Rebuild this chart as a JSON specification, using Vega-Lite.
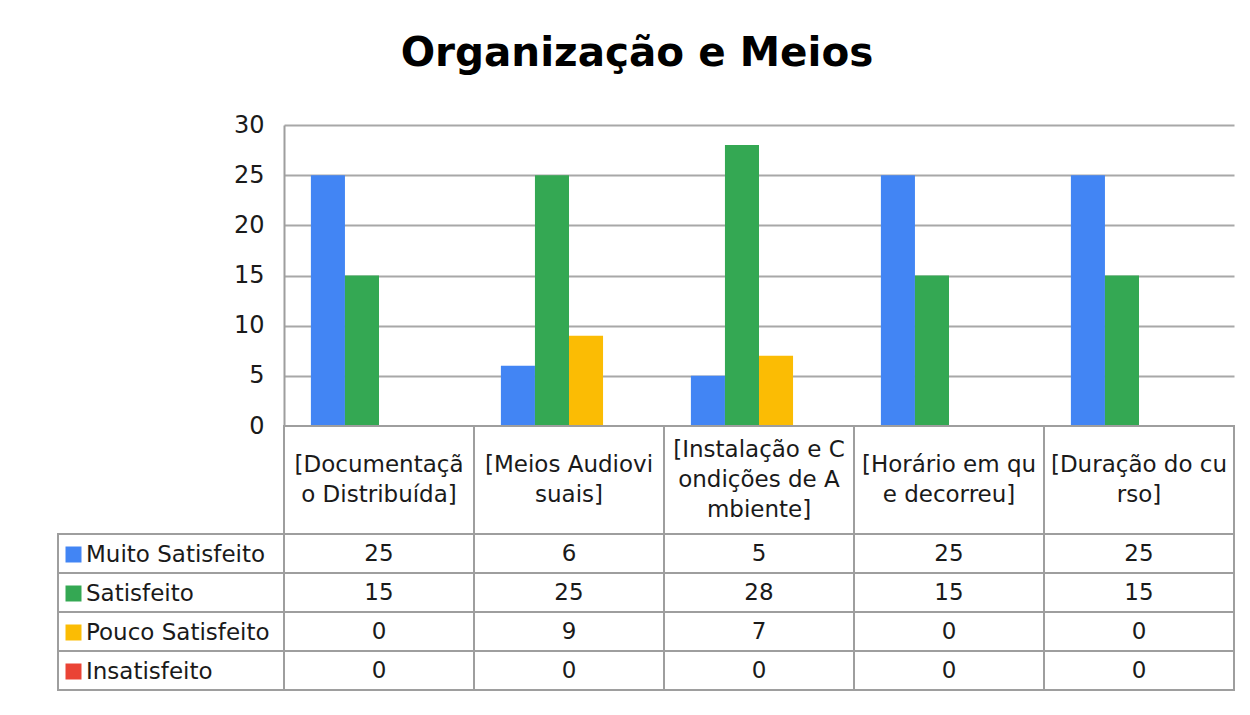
{
  "$schema": "https://vega.github.io/schema/vega-lite/v6.json",
  "padding": {"left": 57, "top": 34, "right": 10, "bottom": 10},
  "config": {"view": {"stroke": null}, "font": "DejaVu Sans"},
  "title": {"text": "Organização e Meios", "fontSize": 40.5, "fontWeight": "bold", "font": "DejaVu Sans", "color": "#000000", "anchor": "middle", "dx": -9, "offset": 38.5},
  "datasets": {
    "d": [
      {"item": "[Documentaçã\no Distribuída]", "series": "Muito Satisfeito", "value": 25},
      {"item": "[Documentaçã\no Distribuída]", "series": "Satisfeito", "value": 15},
      {"item": "[Documentaçã\no Distribuída]", "series": "Pouco Satisfeito", "value": 0},
      {"item": "[Documentaçã\no Distribuída]", "series": "Insatisfeito", "value": 0},
      {"item": "[Meios Audiovi\nsuais]", "series": "Muito Satisfeito", "value": 6},
      {"item": "[Meios Audiovi\nsuais]", "series": "Satisfeito", "value": 25},
      {"item": "[Meios Audiovi\nsuais]", "series": "Pouco Satisfeito", "value": 9},
      {"item": "[Meios Audiovi\nsuais]", "series": "Insatisfeito", "value": 0},
      {"item": "[Instalação e C\nondições de A\nmbiente]", "series": "Muito Satisfeito", "value": 5},
      {"item": "[Instalação e C\nondições de A\nmbiente]", "series": "Satisfeito", "value": 28},
      {"item": "[Instalação e C\nondições de A\nmbiente]", "series": "Pouco Satisfeito", "value": 7},
      {"item": "[Instalação e C\nondições de A\nmbiente]", "series": "Insatisfeito", "value": 0},
      {"item": "[Horário em qu\ne decorreu]", "series": "Muito Satisfeito", "value": 25},
      {"item": "[Horário em qu\ne decorreu]", "series": "Satisfeito", "value": 15},
      {"item": "[Horário em qu\ne decorreu]", "series": "Pouco Satisfeito", "value": 0},
      {"item": "[Horário em qu\ne decorreu]", "series": "Insatisfeito", "value": 0},
      {"item": "[Duração do cu\nrso]", "series": "Muito Satisfeito", "value": 25},
      {"item": "[Duração do cu\nrso]", "series": "Satisfeito", "value": 15},
      {"item": "[Duração do cu\nrso]", "series": "Pouco Satisfeito", "value": 0},
      {"item": "[Duração do cu\nrso]", "series": "Insatisfeito", "value": 0}
    ]
  },
  "bounds": "flush",
  "spacing": 0,
  "columns": 2,
  "resolve": {"scale": {"color": "independent", "x": "independent", "y": "independent", "xOffset": "independent"}, "legend": {"color": "independent"}},
  "concat": [
    {
      "width": 226,
      "height": 301,
      "data": {"values": [{}]},
      "mark": {"type": "text"},
      "encoding": {"text": {"value": ""}}
    },
    {
      "width": 950,
      "height": 301,
      "data": {"name": "d"},
      "mark": {"type": "bar"},
      "encoding": {
        "x": {"field": "item", "type": "nominal", "sort": ["[Documentaçã\no Distribuída]", "[Meios Audiovi\nsuais]", "[Instalação e C\nondições de A\nmbiente]", "[Horário em qu\ne decorreu]", "[Duração do cu\nrso]"], "scale": {"paddingInner": 0, "paddingOuter": 0}, "axis": null},
        "xOffset": {"field": "series", "type": "nominal", "sort": ["Muito Satisfeito", "Satisfeito", "Pouco Satisfeito", "Insatisfeito"], "scale": {"paddingInner": 0, "paddingOuter": 0.79}},
        "y": {"field": "value", "type": "quantitative", "scale": {"domain": [0, 30], "nice": false}, "axis": {"values": [0, 5, 10, 15, 20, 25, 30], "ticks": false, "domain": true, "domainColor": "#9e9e9e", "domainWidth": 2, "gridColor": "#a8a8a8", "gridWidth": 2, "labelFontSize": 24, "labelPadding": 20, "labelColor": "#1a1a1a", "title": null}},
        "color": {"field": "series", "type": "nominal", "scale": {"domain": ["Muito Satisfeito", "Satisfeito", "Pouco Satisfeito", "Insatisfeito"], "range": ["#4285F4", "#34A853", "#FBBC04", "#EA4335"]}, "legend": null}
      }
    },
    {
      "width": 226,
      "height": 108,
      "data": {"values": [{}]},
      "mark": {"type": "text"},
      "encoding": {"text": {"value": ""}}
    },
    {
      "width": 950,
      "height": 108,
      "data": {"name": "d"},
      "transform": [{"aggregate": [{"op": "count", "as": "n"}], "groupby": ["item"]}],
      "encoding": {
        "x": {"field": "item", "type": "nominal", "sort": ["[Documentaçã\no Distribuída]", "[Meios Audiovi\nsuais]", "[Instalação e C\nondições de A\nmbiente]", "[Horário em qu\ne decorreu]", "[Duração do cu\nrso]"], "scale": {"paddingInner": 0, "paddingOuter": 0}, "axis": null}
      },
      "layer": [
        {"mark": {"type": "rect", "fill": "#ffffff", "stroke": "#9e9e9e", "strokeWidth": 2}},
        {
          "transform": [{"filter": "indexof(datum.item, 'mbiente') < 0"}],
          "mark": {"type": "text", "fontSize": 23, "lineBreak": "\n", "lineHeight": 30, "baseline": "middle", "align": "center", "dy": -15, "color": "#1a1a1a"},
          "encoding": {"text": {"field": "item"}}
        },
        {
          "transform": [{"filter": "indexof(datum.item, 'mbiente') >= 0"}],
          "mark": {"type": "text", "fontSize": 23, "lineBreak": "\n", "lineHeight": 30, "baseline": "middle", "align": "center", "dy": -30, "color": "#1a1a1a"},
          "encoding": {"text": {"field": "item"}}
        }
      ]
    },
    {
      "width": 226,
      "height": 156,
      "data": {"name": "d"},
      "transform": [{"aggregate": [{"op": "count", "as": "n"}], "groupby": ["series"]}],
      "layer": [
        {
          "mark": {"type": "rect", "fill": "#ffffff", "stroke": "#9e9e9e", "strokeWidth": 2},
          "encoding": {
            "y": {"field": "series", "type": "nominal", "sort": ["Muito Satisfeito", "Satisfeito", "Pouco Satisfeito", "Insatisfeito"], "scale": {"paddingInner": 0, "paddingOuter": 0}, "axis": null}
          }
        },
        {
          "mark": {"type": "point", "shape": "square", "filled": true, "opacity": 0},
          "encoding": {
            "y": {"field": "series", "type": "nominal", "sort": ["Muito Satisfeito", "Satisfeito", "Pouco Satisfeito", "Insatisfeito"], "axis": null},
            "color": {
              "field": "series", "type": "nominal",
              "scale": {"domain": ["Muito Satisfeito", "Satisfeito", "Pouco Satisfeito", "Insatisfeito"], "range": ["#4285F4", "#34A853", "#FBBC04", "#EA4335"]},
              "legend": {"orient": "top-left", "offset": 9, "padding": 0, "title": null, "symbolType": "square", "symbolSize": 256, "symbolOpacity": 1, "symbolStrokeWidth": 0, "symbolOffset": -5, "labelFontSize": 23, "labelColor": "#1a1a1a", "labelOffset": 1, "rowPadding": 15, "labelFont": "DejaVu Sans", "labelLimit": 300}
            }
          }
        }
      ]
    },
    {
      "width": 950,
      "height": 156,
      "data": {"name": "d"},
      "encoding": {
        "x": {"field": "item", "type": "nominal", "sort": ["[Documentaçã\no Distribuída]", "[Meios Audiovi\nsuais]", "[Instalação e C\nondições de A\nmbiente]", "[Horário em qu\ne decorreu]", "[Duração do cu\nrso]"], "scale": {"paddingInner": 0, "paddingOuter": 0}, "axis": null},
        "y": {"field": "series", "type": "nominal", "sort": ["Muito Satisfeito", "Satisfeito", "Pouco Satisfeito", "Insatisfeito"], "scale": {"paddingInner": 0, "paddingOuter": 0}, "axis": null}
      },
      "layer": [
        {"mark": {"type": "rect", "fill": "#ffffff", "stroke": "#9e9e9e", "strokeWidth": 2}},
        {"mark": {"type": "text", "fontSize": 23, "baseline": "middle", "align": "center", "color": "#1a1a1a"}, "encoding": {"text": {"field": "value", "type": "quantitative"}}}
      ]
    }
  ]
}
